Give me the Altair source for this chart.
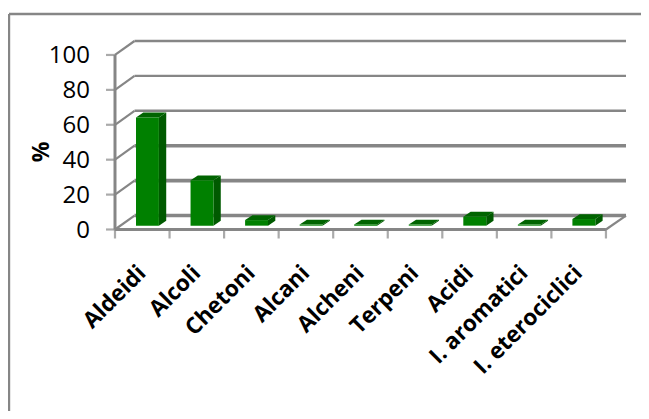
import altair as alt
import pandas as pd

categories = ["Aldeidi", "Alcoli", "Chetoni", "Alcani", "Alcheni", "Terpeni", "Acidi", "I. aromatici", "I. eterociclici"]
values = [62, 26, 3.2, 0.6, 0.6, 0.6, 5.1, 0.6, 3.8]
y_ticks = [0, 20, 40, 60, 80, 100]
x_ticks = [0, 1, 2, 3, 4, 5, 6, 7, 8, 9]

GREY = "#868686"
W, H = 511, 188.5
XMAX = 511 / 54.55
YMAX = 108.0
BX, BY = 19.5 / 54.55, 8.0      # wall depth
BAR_L, BAR_W = 0.385, 0.42      # bar position inside category
DX, DY = 0.134, 2.8             # bar depth
BASE = 2.2

xs = alt.Scale(domain=[0, XMAX], nice=False, zero=False)
ys = alt.Scale(domain=[0, YMAX], nice=False, zero=False)
X = lambda f, **k: alt.X(f, type="quantitative", scale=xs, axis=None, **k)
Y = lambda f, **k: alt.Y(f, type="quantitative", scale=ys, axis=None, **k)

back = pd.DataFrame([{"v": v, "x0": BX, "x1": XMAX, "y": v + BY, "t": "thin" if v > 40 else "thick"} for v in y_ticks])
back_thin = alt.Chart(back[back.t == "thin"]).mark_rule(color=GREY, strokeWidth=2.4).encode(X("x0:Q"), x2="x1:Q", y=Y("y:Q"))
back_thick = alt.Chart(back[back.t == "thick"]).mark_rule(color=GREY, strokeWidth=3.6).encode(X("x0:Q"), x2="x1:Q", y=Y("y:Q"))

slant_rows = []
for v in y_ticks:
    slant_rows += [{"v": v, "x": 0, "y": v}, {"v": v, "x": BX, "y": v + BY}]
slant_rows += [{"v": -1, "x": 9, "y": 0}, {"v": -1, "x": XMAX, "y": BY}]
slants = alt.Chart(pd.DataFrame(slant_rows)).mark_line(color=GREY, strokeWidth=2.2).encode(X("x:Q"), Y("y:Q"), detail="v:N")

wall_axis = alt.Chart(pd.DataFrame({"x": [0, 0], "y": [0, 100]})).mark_line(color=GREY, strokeWidth=3).encode(X("x:Q"), Y("y:Q"))
floor = alt.Chart(pd.DataFrame({"x": [0, 9], "y": [0, 0]})).mark_line(color=GREY, strokeWidth=2.8).encode(X("x:Q"), Y("y:Q"))

ticks_y = alt.Chart(pd.DataFrame({"v": y_ticks})).mark_text(align="right", baseline="middle", dx=-25, dy=1, fontSize=24, font="Open Sans", color="#000000").encode(
    x=alt.value(0), y=Y("v:Q"), text=alt.Text("v:Q"))
tick_marks_y = alt.Chart(pd.DataFrame({"v": y_ticks})).mark_tick(color=GREY, thickness=2.2, size=9, orient="horizontal", xOffset=-4.5).encode(x=alt.value(0), y=Y("v:Q"))
tick_marks_x = alt.Chart(pd.DataFrame({"t": x_ticks})).mark_tick(color=GREY, thickness=2.2, size=9, orient="vertical", yOffset=4.5).encode(X("t:Q"), y=alt.value(H))

front_rows, side_rows, top_rows = [], [], []
for i, (c, v) in enumerate(zip(categories, values)):
    l = i + BAR_L
    r = l + BAR_W
    t = BASE + v
    front_rows.append({"c": c, "l": l, "r": r, "b": BASE, "t": t})
    side_rows += [{"c": c, "x": r, "y": BASE, "y2": t}, {"c": c, "x": r + DX, "y": BASE + DY, "y2": t + DY}]
    top_rows += [{"c": c, "y": t, "x": l, "x2": r}, {"c": c, "y": t + DY, "x": l + DX, "x2": r + DX}]

front = alt.Chart(pd.DataFrame(front_rows)).mark_rect(color="#008000").encode(X("l:Q"), x2="r:Q", y=Y("b:Q"), y2="t:Q")
side = alt.Chart(pd.DataFrame(side_rows)).mark_area(color="#005a00", opacity=1).encode(X("x:Q"), Y("y:Q"), y2="y2:Q", detail="c:N")
top = alt.Chart(pd.DataFrame(top_rows)).mark_area(color="#006400", opacity=1, orient="horizontal").encode(X("x:Q"), Y("y:Q"), x2="x2:Q", detail="c:N")

labels = alt.Chart(pd.DataFrame({"c": categories, "p": [i + 0.5 for i in range(9)]})).mark_text(
    align="right", baseline="middle", angle=315, fontSize=22.5, fontWeight="bold", font="Open Sans", color="#000000"
).encode(X("p:Q"), y=alt.value(H + 40), text="c:N")

pct = alt.Chart(pd.DataFrame({"t": ["%"]})).mark_text(angle=270, fontSize=23, fontWeight="bold", font="Open Sans", color="#000000").encode(
    x=alt.value(-73), y=alt.value(111), text="t:N")

border_top = alt.Chart(pd.DataFrame({"a": [0]})).mark_rule(color=GREY, strokeWidth=2.4).encode(
    x=alt.value(-106), x2=alt.value(526), y=alt.value(-27))
border_left = alt.Chart(pd.DataFrame({"a": [0]})).mark_rule(color=GREY, strokeWidth=2.4).encode(
    x=alt.value(-106), y=alt.value(-27), y2=alt.value(378))

chart = alt.layer(
    border_top, border_left, back_thin, back_thick, slants, wall_axis, floor, tick_marks_y, tick_marks_x,
    side, top, front, ticks_y, labels, pct
).properties(
    width=W, height=H,
    padding={"left": 107, "top": 33, "right": 15, "bottom": 181},
    autosize=alt.AutoSizeParams(type="none"),
    background="#ffffff",
).configure_view(stroke=None)

chart.save("out.html", embed_options={"renderer": "svg", "actions": False})
